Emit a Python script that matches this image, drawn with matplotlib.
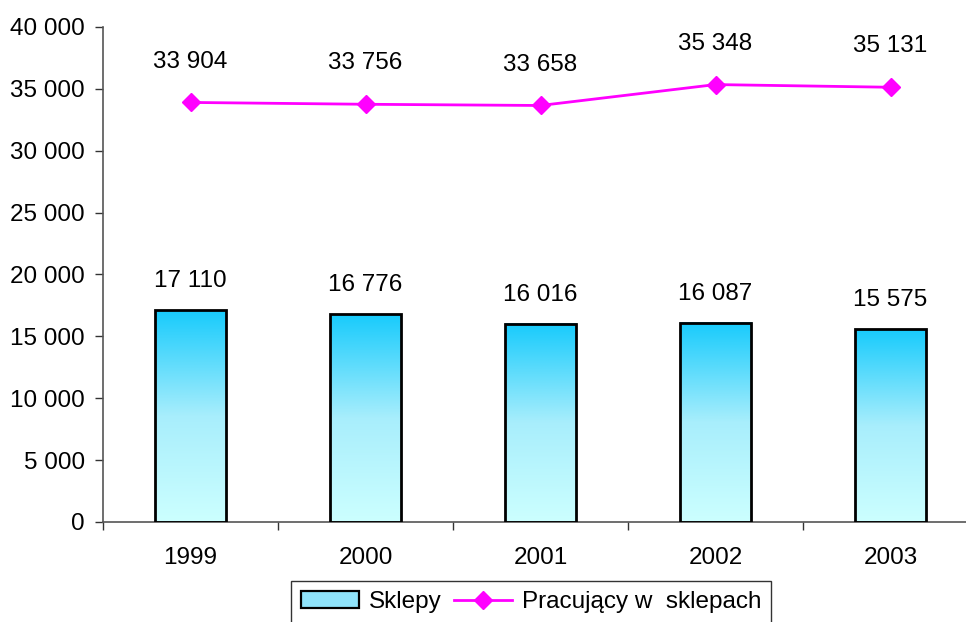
import numpy as np
import matplotlib
matplotlib.use('Agg')
import matplotlib.pyplot as plt
from matplotlib.colors import LinearSegmentedColormap
from matplotlib.ticker import FuncFormatter

plt.rcParams['font.family'] = ['Liberation Sans', 'DejaVu Sans']

years = ['1999', '2000', '2001', '2002', '2003']
sklepy = [17110, 16776, 16016, 16087, 15575]
pracujacy = [33904, 33756, 33658, 35348, 35131]


def fmt(v):
    return f'{int(v):,}'.replace(',', ' ')


fs = 17.5
fig = plt.figure(figsize=(9.66, 6.22), dpi=100)
ax = fig.add_axes([103 / 966, 100 / 622, 875 / 966, 495 / 622])

x = np.arange(len(years))
width = 0.41
cmap = LinearSegmentedColormap.from_list('bar', ['#ccffff', '#a8eefc', '#18cbfc'])
grad = np.linspace(0, 1, 256).reshape(-1, 1)

bars = ax.bar(x, sklepy, width, facecolor='none', edgecolor='black', linewidth=2,
              zorder=3)
for xi, v in zip(x, sklepy):
    ax.imshow(grad, cmap=cmap, origin='lower', aspect='auto',
              extent=[xi - width / 2, xi + width / 2, 0, v], zorder=2)
    ax.text(xi, v + 2350, fmt(v), ha='center', va='center', fontsize=fs)

line, = ax.plot(x, pracujacy, color='#ff00ff', linewidth=2, marker='D', markersize=9,
                zorder=4)
for xi, v in zip(x, pracujacy):
    ax.text(xi, v + 3300, fmt(v), ha='center', va='center', fontsize=fs)

ax.set_xlim(-0.5, len(years) - 0.5)
ax.set_ylim(0, 40000)
ax.set_yticks(np.arange(0, 40001, 5000))
ax.yaxis.set_major_formatter(FuncFormatter(lambda v, p: fmt(v)))
ax.set_xticks(x)
ax.set_xticklabels(years)
ax.set_xticks(np.arange(-0.5, len(years), 1), minor=True)
ax.tick_params(axis='x', which='major', length=0, pad=18, labelsize=fs)
ax.tick_params(axis='x', which='minor', length=6, width=1, color='#333333', direction='out')
ax.tick_params(axis='y', length=6, width=1, color='#333333', labelsize=fs, pad=7)

for s in ['top', 'right']:
    ax.spines[s].set_visible(False)
for s in ['left', 'bottom']:
    ax.spines[s].set_color('#555555')
    ax.spines[s].set_linewidth(1.2)

swatch = plt.Rectangle((0, 0), 1, 1, facecolor='#8fe3fa', edgecolor='black', linewidth=1.6)
leg = ax.legend([swatch, line], ['Sklepy', 'Pracujący w  sklepach'],
                loc='center', bbox_to_anchor=(531 / 966, 20 / 622),
                bbox_transform=fig.transFigure, ncol=2, frameon=True, fancybox=False,
                fontsize=fs, handlelength=2.4, handletextpad=0.4, columnspacing=0.5,
                borderpad=0.4, borderaxespad=0)
leg.get_frame().set_edgecolor('black')
leg.get_frame().set_linewidth(1)

fig.savefig('out.png', dpi=100)
